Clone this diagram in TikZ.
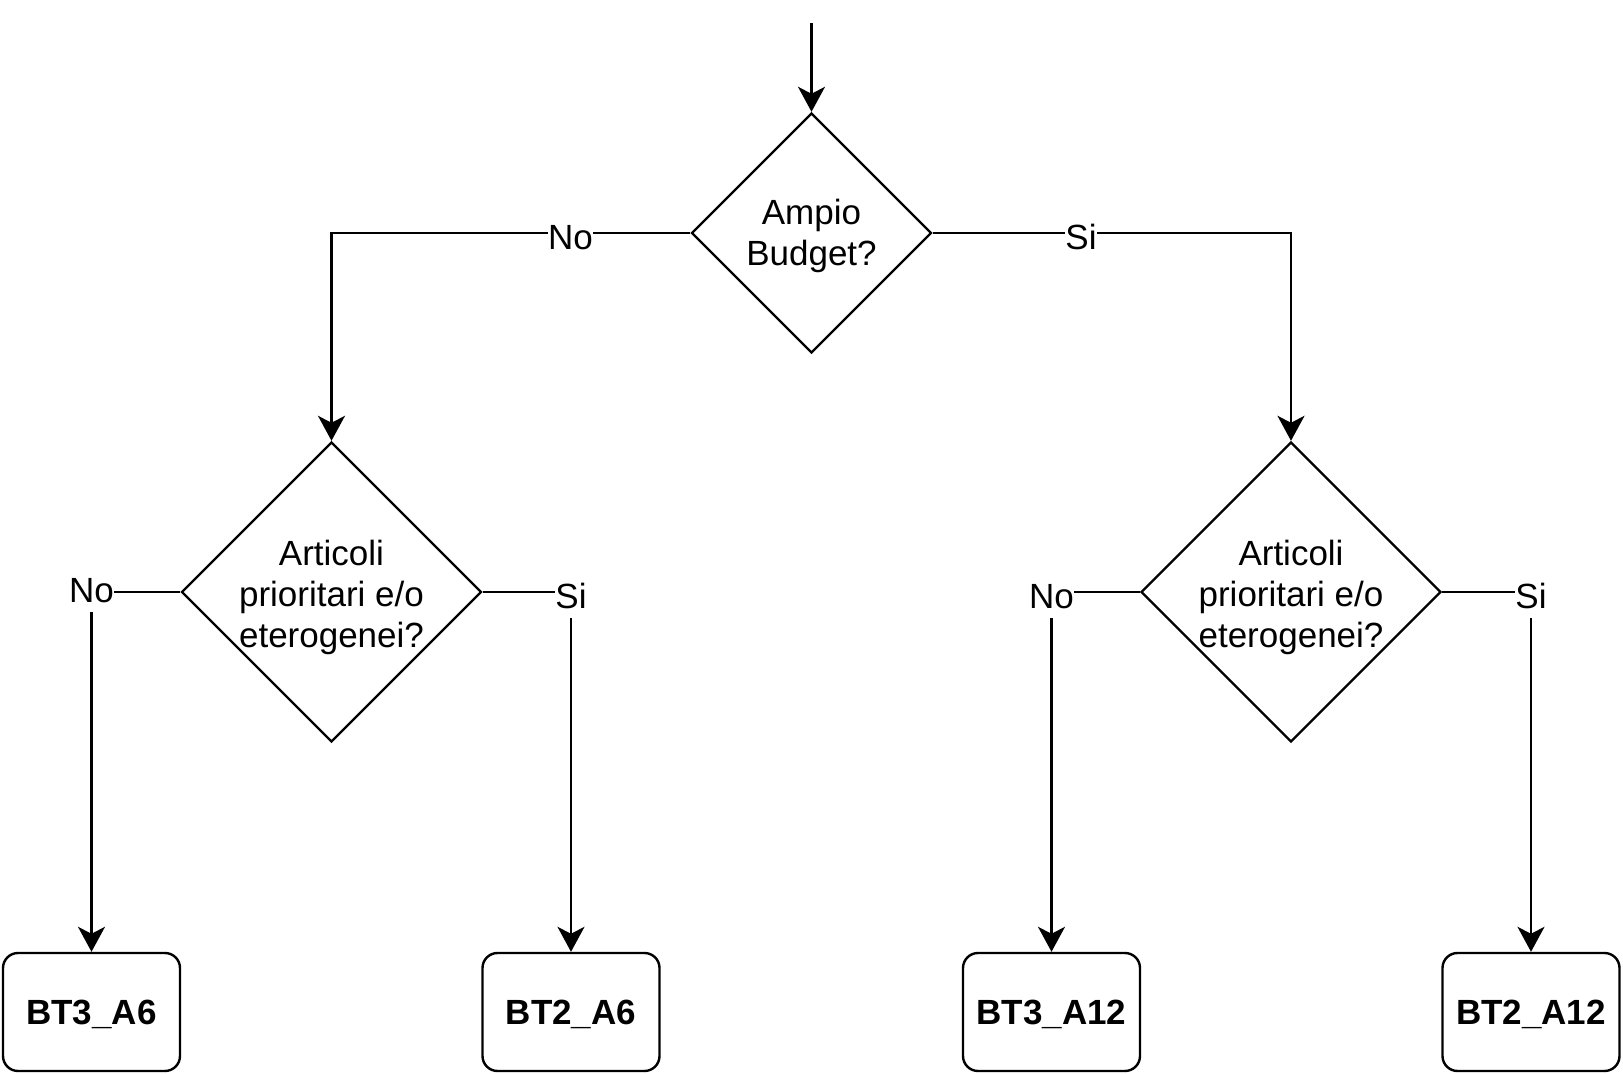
\documentclass[tikz,border=0pt]{standalone}
\usepackage{fontspec}
\setmainfont{Liberation Sans}
\usetikzlibrary{arrows.meta,shapes.geometric}
\tikzset{
	decision/.style={draw, diamond, aspect=1, line width=1.2pt, inner sep=-4pt, align=center, font=\fontsize{17.5}{20.5}\selectfont},
	outcome/.style={draw, rounded corners=7.5pt, line width=1.2pt, minimum width=88.5pt, minimum height=59pt, text height=12.5pt, text depth=0pt, font=\fontsize{17.5}{20.5}\selectfont\bfseries},
	answer/.style={fill=white, inner sep=0pt, text height=15.5pt, text depth=5pt, font=\fontsize{17.5}{20.5}\selectfont},
	flow/.style={line width=1.2pt, -{Stealth[length=12.5pt, width=13.5pt, inset=3.5pt]}}
}

\begin{document}
\begin{tikzpicture}[x=0.5pt, y=-0.5pt]
			%%%%% START %%%%%
			\useasboundingbox (0, 0) rectangle (1623, 1074);
			
			\coordinate (entry) at (811.5, 23);
			\node[decision, minimum width=120pt, minimum height=120pt] (budget) at (811.5, 233) {\rule{0pt}{16pt}Ampio\\Budget?};
			
			\node[decision, minimum width=150pt, minimum height=150pt] (artLeft) at (331.5, 592) {\rule{0pt}{18pt}Articoli\\prioritari e/o\\eterogenei?};
			\node[decision, minimum width=150pt, minimum height=150pt] (artRight) at (1291, 592) {\rule{0pt}{18pt}Articoli\\prioritari e/o\\eterogenei?};
			
			\node[outcome] (btThreeSix) at (91.5, 1012) {BT3\_A6};
			\node[outcome] (btTwoSix) at (571, 1012) {BT2\_A6};
			\node[outcome] (btThreeTwelve) at (1051.5, 1012) {BT3\_A12};
			\node[outcome] (btTwoTwelve) at (1531, 1012) {BT2\_A12};
			
			\draw[flow] (entry) -- (budget.north);
			\draw[flow] (budget.west) -| node[answer, pos=0.167, yshift=-3pt] {No} (artLeft.north);
			\draw[flow] (budget.east) -| node[answer, pos=0.207, yshift=-3pt] {Si} (artRight.north);
			
			\draw[flow] (artLeft.west) -| node[answer, pos=0.5] {No} (btThreeSix.north);
			\draw[flow] (artLeft.east) -| node[answer, pos=0.5, yshift=-3pt] {Si} (btTwoSix.north);
			\draw[flow] (artRight.west) -| node[answer, pos=0.5, yshift=-3pt] {No} (btThreeTwelve.north);
			\draw[flow] (artRight.east) -| node[answer, pos=0.5, yshift=-3pt] {Si} (btTwoTwelve.north);
			
			%%%%% END %%%%%
\end{tikzpicture}
\end{document}
